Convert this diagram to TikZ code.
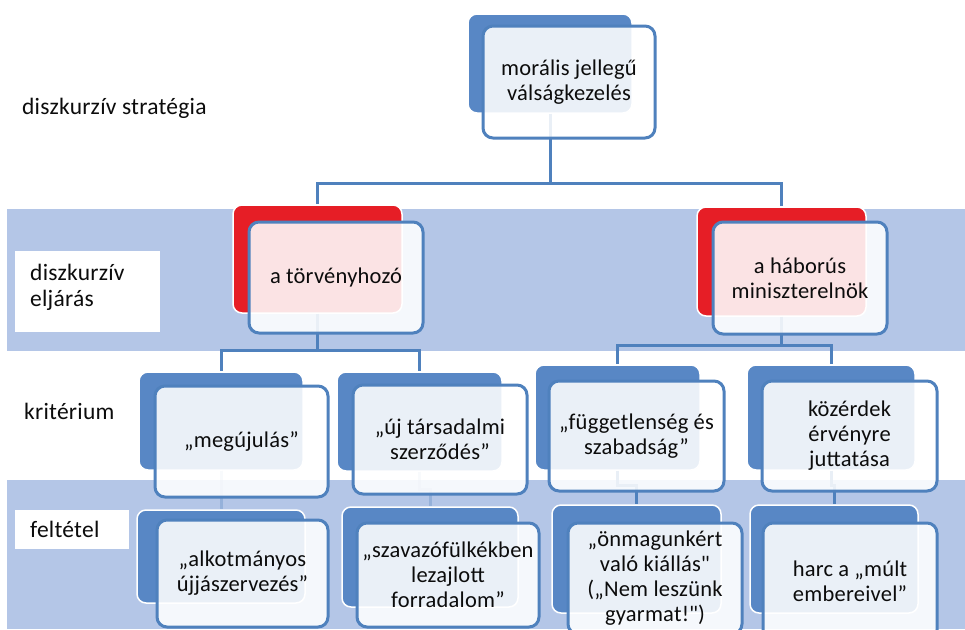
\documentclass[tikz,border=0pt]{standalone}
\usepackage{fontspec}
\setmainfont{Carlito}[LetterSpace=1]
\font\sqfont="Carlito" at 22.5pt
\newcommand\sqq{{\sqfont\char34}}
\definecolor{band}{RGB}{180,198,231}
\definecolor{dkb}{RGB}{88,135,197}
\definecolor{brd}{RGB}{79,129,189}
\definecolor{rd}{RGB}{230,30,38}
\definecolor{txt}{RGB}{12,12,12}
\begin{document}
\begin{tikzpicture}[x=1pt,y=-1pt,
  back/.style={draw=white, line width=1.5pt, rounded corners=9pt, inner sep=0pt},
  bk/.style={back, fill=dkb},
  rbk/.style={back, fill=rd},
  front/.style={draw=brd, line width=3pt, rounded corners=10pt, fill=white, fill opacity=0.88, text opacity=1, inner sep=0pt, align=center, font=\fontsize{22.5}{25}\selectfont, text=txt},
  conn/.style={draw=brd, line width=3pt},
  faint/.style={conn, draw opacity=0.3},
  lbl/.style={font=\fontsize{23.5}{26}\selectfont, text=txt, anchor=west, align=left, inner sep=0pt},
  lblbox/.style={fill=white, inner sep=0pt, anchor=north west}]
\useasboundingbox (0,0) rectangle (965,629);
\clip (0,0) rectangle (965,629);
\fill[white] (0,0) rectangle (965,629);
% bands
\fill[band] (7,209) rectangle (965,351);
\fill[band] (7,480) rectangle (965,629);
% left labels
\node[lbl] (ls) at (22,108) {diszkurzív stratégia};
\node[lblbox, minimum width=145pt, minimum height=81pt] (lbe) at (15,251) {};
\node[lbl] (le) at (30,287) {diszkurzív\\eljárás};
\node[lbl] (lk) at (24,411) {kritérium};
\node[lblbox, minimum width=114pt, minimum height=39pt] (lbf) at (15,510) {};
\node[lbl] (lf) at (30,529) {feltétel};
% back boxes
\node[bk, minimum width=164pt, minimum height=99pt] (t0) at (550,63.5) {};
\node[rbk, minimum width=169pt, minimum height=108pt] (r1) at (317.5,259) {};
\node[rbk, minimum width=169pt, minimum height=109pt] (r2) at (781.5,261.5) {};
\node[bk, minimum width=164pt, minimum height=98pt] (c1) at (221,421) {};
\node[bk, minimum width=165pt, minimum height=99pt] (c2) at (419.5,421.5) {};
\node[bk, minimum width=165pt, minimum height=105pt] (c3) at (617.5,417.5) {};
\node[bk, minimum width=168pt, minimum height=105pt] (c4) at (831,417.5) {};
\node[bk, minimum width=168pt, minimum height=93pt] (f1) at (221,556.5) {};
\node[bk, minimum width=176pt, minimum height=100pt] (f2) at (430,557) {};
\node[bk, minimum width=169pt, minimum height=108pt] (f3) at (636.5,559) {};
\node[bk, minimum width=168pt, minimum height=108pt] (f4) at (834,559) {};
% connectors
\coordinate (j0) at (550,183);
\coordinate (j1) at (317.5,350);
\coordinate (j2) at (781.5,345);
\draw[conn] (t0.south) -- (j0) -| (r1.north);
\draw[conn] (j0) -| (r2.north);
\draw[conn] (r1.south) -- (j1) -| (c1.north);
\draw[conn] (j1) -| (c2.north);
\draw[conn] (r2.south) -- (j2) -| (c3.north);
\draw[conn] (j2) -| (c4.north);
\draw[faint] (c1.south) -- ++(0,18) -| (f1.north);
\draw[faint] (c2.south) -- ++(0,18) -| (f2.north);
\draw[conn] (c3.south) -- ++(0,15) -| (f3.north);
\draw[conn] (c4.south) -- ++(0,15) -| (f4.north);
% front boxes
\node[front, minimum width=172pt, minimum height=112pt] (t0f) at (569,82) {morális jellegű\\válságkezelés};
\node[front, minimum width=174pt, minimum height=111pt] (r1f) at (336,277.5) {a törvényhozó};
\node[front, minimum width=174pt, minimum height=112pt] (r2f) at (800,278) {a háborús\\miniszterelnök};
\node[front, minimum width=173pt, minimum height=111pt] (c1f) at (241.5,441.5) {„megújulás”};
\node[front, minimum width=174pt, minimum height=109pt] (c2f) at (440,439.5) {„új társadalmi\\szerződés”};
\node[front, minimum width=175pt, minimum height=110pt] (c3f) at (636.5,436) {„függetlenség és\\szabadság”};
\node[front, minimum width=175pt, minimum height=110pt] (c4f) at (849.5,436) {közérdek\\érvényre\\juttatása};
\node[front, minimum width=171pt, minimum height=107pt] (f1f) at (242.5,573.5) {„alkotmányos\\újjászervezés”};
\node[front, minimum width=182pt, minimum height=104pt] (f2f) at (448,575) {„szavazófülkékben\\lezajlott\\forradalom”};
\node[front, minimum width=174pt, minimum height=111pt] (f3f) at (655,578.5) {„önmagunkért\\való kiállás\sqq\\(„Nem leszünk\\gyarmat!\sqq)};
\node[front, minimum width=174pt, minimum height=117pt] (f4f) at (850,581.5) {harc a „múlt\\embereivel”};
\end{tikzpicture}
\end{document}
